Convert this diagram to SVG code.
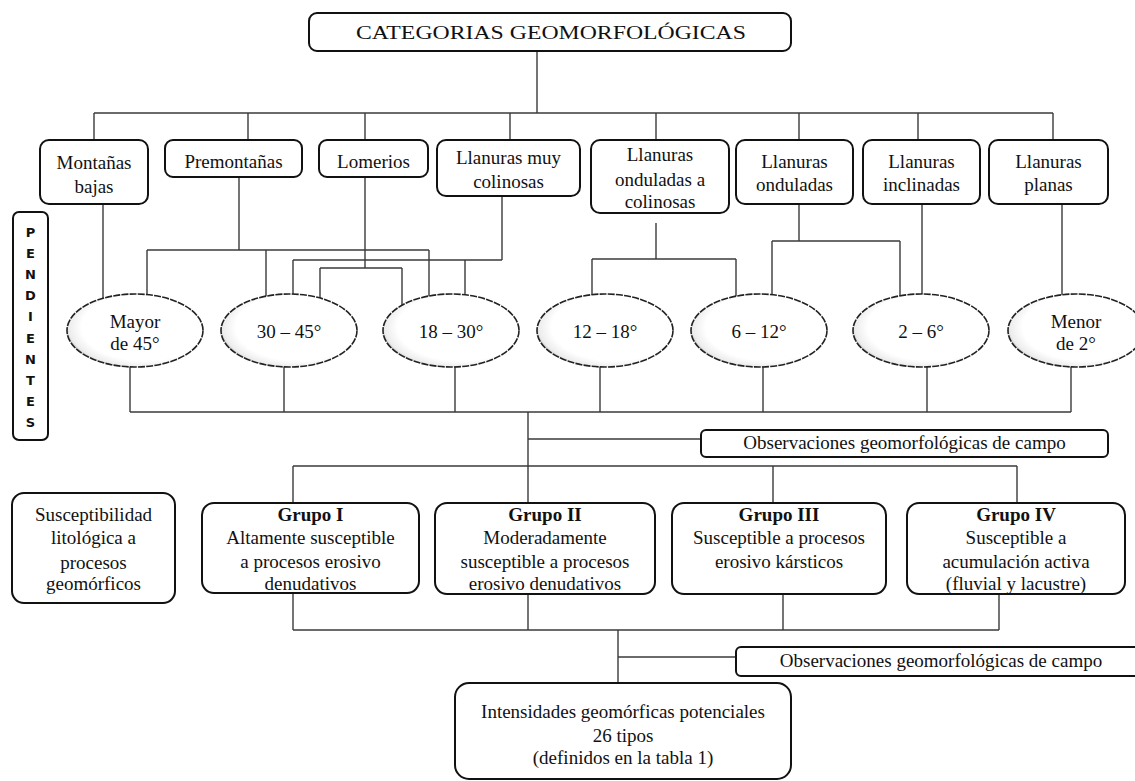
<svg xmlns="http://www.w3.org/2000/svg" width="1135" height="781" viewBox="0 0 1135 781">
<defs>
<radialGradient id="eg" cx="0.56" cy="0.46" r="0.58" fx="0.62" fy="0.42">
<stop offset="0.8" stop-color="#ffffff"/>
<stop offset="0.95" stop-color="#ececec"/>
<stop offset="1" stop-color="#b8b8b8"/>
</radialGradient>
</defs>
<style>
.bx{fill:#fff;stroke:#111;stroke-width:2}
.el{fill:url(#eg);stroke:#222;stroke-width:1.6;stroke-dasharray:7 1.2}
.cn line{stroke:#3a3a3a;stroke-width:1.4}
text{font-family:"Liberation Serif","Times New Roman",serif;font-size:19px;fill:#111;text-anchor:middle}
.b{font-weight:bold}
.sans{font-family:"DejaVu Sans","Liberation Sans",sans-serif;font-weight:bold;font-size:13px}
</style>
<rect width="1135" height="781" fill="#fff"/>
<g class="cn" id="connectors">
<line x1="537" y1="51" x2="537" y2="113"/>
<line x1="94" y1="113" x2="1053" y2="113"/>
<line x1="94" y1="113" x2="94" y2="140"/>
<line x1="248" y1="113" x2="248" y2="140"/>
<line x1="365" y1="113" x2="365" y2="140"/>
<line x1="510" y1="113" x2="510" y2="140"/>
<line x1="656" y1="113" x2="656" y2="140"/>
<line x1="799" y1="113" x2="799" y2="140"/>
<line x1="918" y1="113" x2="918" y2="140"/>
<line x1="1053" y1="113" x2="1053" y2="140"/>
<line x1="103" y1="204" x2="103" y2="310"/>
<line x1="239" y1="177" x2="239" y2="250"/>
<line x1="147" y1="250" x2="429" y2="250"/>
<line x1="147" y1="250" x2="147" y2="310"/>
<line x1="266" y1="250" x2="266" y2="310"/>
<line x1="429" y1="250" x2="429" y2="310"/>
<line x1="365" y1="177" x2="365" y2="268"/>
<line x1="320" y1="268" x2="402" y2="268"/>
<line x1="320" y1="268" x2="320" y2="310"/>
<line x1="402" y1="268" x2="402" y2="310"/>
<line x1="502" y1="196" x2="502" y2="260"/>
<line x1="293" y1="260" x2="502" y2="260"/>
<line x1="293" y1="260" x2="293" y2="310"/>
<line x1="465" y1="260" x2="465" y2="310"/>
<line x1="656" y1="223" x2="656" y2="259"/>
<line x1="592" y1="259" x2="736" y2="259"/>
<line x1="592" y1="259" x2="592" y2="310"/>
<line x1="736" y1="259" x2="736" y2="310"/>
<line x1="799" y1="204" x2="799" y2="241"/>
<line x1="772" y1="241" x2="900" y2="241"/>
<line x1="772" y1="241" x2="772" y2="310"/>
<line x1="900" y1="241" x2="900" y2="310"/>
<line x1="922" y1="204" x2="922" y2="310"/>
<line x1="1062" y1="204" x2="1062" y2="310"/>
<line x1="130" y1="350" x2="130" y2="412"/>
<line x1="284" y1="350" x2="284" y2="412"/>
<line x1="455" y1="350" x2="455" y2="412"/>
<line x1="600" y1="350" x2="600" y2="412"/>
<line x1="763" y1="350" x2="763" y2="412"/>
<line x1="927" y1="350" x2="927" y2="412"/>
<line x1="1071" y1="350" x2="1071" y2="412"/>
<line x1="130" y1="412" x2="1071" y2="412"/>
<line x1="528" y1="412" x2="528" y2="503"/>
<line x1="528" y1="439" x2="701" y2="439"/>
<line x1="293" y1="466" x2="1017" y2="466"/>
<line x1="293" y1="466" x2="293" y2="503"/>
<line x1="773" y1="466" x2="773" y2="503"/>
<line x1="1017" y1="466" x2="1017" y2="503"/>
<line x1="293" y1="594" x2="293" y2="630"/>
<line x1="528" y1="594" x2="528" y2="630"/>
<line x1="783" y1="594" x2="783" y2="630"/>
<line x1="999" y1="594" x2="999" y2="630"/>
<line x1="293" y1="630" x2="999" y2="630"/>
<line x1="618" y1="630" x2="618" y2="683"/>
<line x1="618" y1="657" x2="736" y2="657"/>
</g>
<g id="title"><rect class="bx" x="309" y="13" width="482" height="38" rx="8"/><text x="551" y="39" font-size="20" textLength="390" lengthAdjust="spacingAndGlyphs">CATEGORIAS GEOMORFOLÓGICAS</text></g>
<g id="montanas"><rect class="bx" x="40" y="140" width="108" height="64" rx="9"/><text x="94" y="169">Montañas</text><text x="94" y="193">bajas</text></g>
<g id="premontanas"><rect class="bx" x="165" y="140" width="137" height="37" rx="8"/><text x="233.5" y="168">Premontañas</text></g>
<g id="lomerios"><rect class="bx" x="319" y="140" width="109" height="37" rx="8"/><text x="373.5" y="168">Lomerios</text></g>
<g id="muycolinosas"><rect class="bx" x="437" y="140" width="143" height="56" rx="9"/><text x="508.5" y="164">Llanuras muy</text><text x="508.5" y="188">colinosas</text></g>
<g id="ondcolinosas"><rect class="bx" x="591" y="140" width="138" height="73" rx="9"/><text x="660" y="161">Llanuras</text><text x="660" y="186">onduladas a</text><text x="660" y="208">colinosas</text></g>
<g id="onduladas"><rect class="bx" x="736" y="140" width="117" height="64" rx="9"/><text x="794.5" y="168">Llanuras</text><text x="794.5" y="191">onduladas</text></g>
<g id="inclinadas"><rect class="bx" x="863" y="140" width="117" height="64" rx="9"/><text x="921.5" y="168">Llanuras</text><text x="921.5" y="191">inclinadas</text></g>
<g id="planas"><rect class="bx" x="989" y="140" width="119" height="64" rx="9"/><text x="1048.5" y="168">Llanuras</text><text x="1048.5" y="191">planas</text></g>
<g id="pendientes"><rect class="bx" x="13" y="212" width="35" height="228" rx="6"/>
<text class="sans" x="30.5" y="237">P</text><text class="sans" x="30.5" y="258">E</text><text class="sans" x="30.5" y="279">N</text><text class="sans" x="30.5" y="300">D</text><text class="sans" x="30.5" y="321">I</text><text class="sans" x="30.5" y="343">E</text><text class="sans" x="30.5" y="364">N</text><text class="sans" x="30.5" y="385">T</text><text class="sans" x="30.5" y="406">E</text><text class="sans" x="30.5" y="427">S</text></g>
<g id="p45"><ellipse class="el" cx="135" cy="330.5" rx="68" ry="36.5"/><text x="135" y="328">Mayor</text><text x="135" y="350">de 45°</text></g>
<g id="p30"><ellipse class="el" cx="289" cy="330.5" rx="68" ry="36.5"/><text x="289" y="338">30 – 45°</text></g>
<g id="p18"><ellipse class="el" cx="451" cy="330.5" rx="68" ry="36.5"/><text x="451" y="338">18 – 30°</text></g>
<g id="p12"><ellipse class="el" cx="605" cy="330.5" rx="68" ry="36.5"/><text x="605" y="338">12 – 18°</text></g>
<g id="p6"><ellipse class="el" cx="759" cy="330.5" rx="68" ry="36.5"/><text x="759" y="338">6 – 12°</text></g>
<g id="p2"><ellipse class="el" cx="921" cy="330.5" rx="68" ry="36.5"/><text x="921" y="338">2 – 6°</text></g>
<g id="pmenor"><ellipse class="el" cx="1076" cy="330.5" rx="68" ry="36.5"/><text x="1076" y="328">Menor</text><text x="1076" y="350">de 2°</text></g>
<g id="obs1"><rect class="bx" x="701" y="430" width="407" height="27" rx="5"/><text x="904.5" y="449">Observaciones  geomorfológicas de campo</text></g>
<g id="suscept"><rect class="bx" x="12" y="493" width="163" height="110" rx="12"/><text x="93.5" y="521">Susceptibilidad</text><text x="93.5" y="544">litológica a</text><text x="93.5" y="569">procesos</text><text x="93.5" y="590">geomórficos</text></g>
<g id="grupo1"><rect class="bx" x="202" y="503" width="217" height="90" rx="12"/><text class="b" x="310.5" y="521">Grupo I</text><text x="310.5" y="544">Altamente susceptible</text><text x="310.5" y="568">a procesos erosivo</text><text x="310.5" y="590">denudativos</text></g>
<g id="grupo2"><rect class="bx" x="435" y="503" width="220" height="91" rx="12"/><text class="b" x="545" y="521">Grupo II</text><text x="545" y="544">Moderadamente</text><text x="545" y="568">susceptible a procesos</text><text x="545" y="590">erosivo denudativos</text></g>
<g id="grupo3"><rect class="bx" x="672" y="503" width="214" height="91" rx="12"/><text class="b" x="779" y="521">Grupo III</text><text x="779" y="544">Susceptible a procesos</text><text x="779" y="568">erosivo kársticos</text></g>
<g id="grupo4"><rect class="bx" x="907" y="503" width="218" height="91" rx="12"/><text class="b" x="1016" y="521">Grupo IV</text><text x="1016" y="544">Susceptible a</text><text x="1016" y="568">acumulación activa</text><text x="1016" y="590">(fluvial y lacustre)</text></g>
<g id="obs2"><rect class="bx" x="736" y="647" width="412" height="29" rx="5"/><text x="941" y="667">Observaciones  geomorfológicas de campo</text></g>
<g id="intensidades"><rect class="bx" x="455" y="683" width="336" height="96" rx="14"/><text x="623" y="718">Intensidades geomórficas potenciales</text><text x="623" y="742">26 tipos</text><text x="623" y="764">(definidos en la tabla 1)</text></g>
</svg>
